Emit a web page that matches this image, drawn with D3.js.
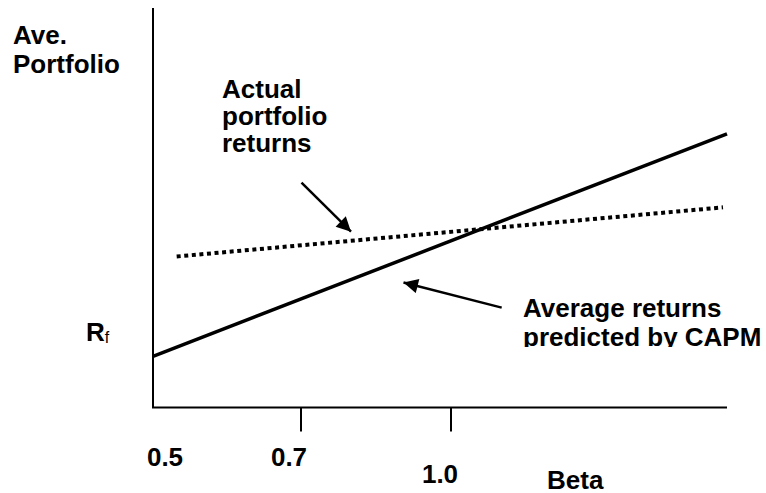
<!DOCTYPE html>
<html>
<head>
<meta charset="utf-8">
<script src="https://cdn.jsdelivr.net/npm/d3@7"></script>
<style>
  body { margin: 0; background: #fff; }
  text { font-family: "Liberation Sans", Arial, sans-serif; font-weight: bold; fill: #000; }
</style>
</head>
<body>
<svg id="chart"></svg>
<script>
// Data (schematic units: beta on x, average return on y)
const tickBetas = [0.5, 0.7, 1.0];
const tickLabels = ["0.5", "0.7", "1.0"];
const capmBeta = [0.5, 1.55];
const capmReturn = [0.128, 0.685];
const actualBeta = [0.532, 1.542];
const actualReturn = [0.378, 0.501];
const arrowActual = [[0.701, 0.563], [0.8, 0.44]];
const arrowCapm = [[1.101, 0.25], [0.905, 0.313]];

const width = 766, height = 493;
const svg = d3.select("#chart").attr("width", width).attr("height", height);

// x is drawn schematically, so the scale is piecewise
const x = d3.scaleLinear().domain([0.5, 0.7, 1.0, 1.55]).range([153, 301, 451, 727]);
const y = d3.scaleLinear().domain([0, 1]).range([407.5, 8]);

// arrowhead
svg.append("defs").append("marker")
    .attr("id", "head")
    .attr("viewBox", "0 0 10 10")
    .attr("refX", 10).attr("refY", 5)
    .attr("markerWidth", 6.4).attr("markerHeight", 5.8)
    .attr("markerUnits", "strokeWidth")
    .attr("orient", "auto")
  .append("path")
    .attr("d", "M0,0 L10,5 L0,10 Z")
    .attr("fill", "#000");

// axes
svg.append("line")
    .attr("x1", x(0.5)).attr("x2", x(0.5))
    .attr("y1", y(1)).attr("y2", y(0))
    .attr("stroke", "#000").attr("stroke-width", 2);

svg.append("line")
    .attr("x1", x(0.5) - 1).attr("x2", x(1.55))
    .attr("y1", y(0)).attr("y2", y(0))
    .attr("stroke", "#000").attr("stroke-width", 2);

svg.selectAll(".tick")
    .data(tickBetas.slice(1))
    .join("line")
    .attr("class", "tick")
    .attr("x1", d => x(d)).attr("x2", d => x(d))
    .attr("y1", y(0)).attr("y2", y(0) + 24)
    .attr("stroke", "#000").attr("stroke-width", 2);

// tick labels sit a little off their ticks in the original
const labelDx = [12, -12, -11];
const labelY = [466, 466, 483];
svg.selectAll(".tick-label")
    .data(tickBetas)
    .join("text")
    .attr("class", "tick-label")
    .attr("text-anchor", "middle")
    .attr("x", (d, i) => x(d) + labelDx[i])
    .attr("y", (d, i) => labelY[i])
    .style("font-size", "26px")
    .text((d, i) => tickLabels[i]);

svg.append("text")
    .attr("x", 547).attr("y", 489)
    .style("font-size", "26px")
    .text("Beta");

// y label
const yLabel = svg.append("text").style("font-size", "26px");
yLabel.append("tspan").attr("x", 13).attr("y", 44).text("Ave.");
yLabel.append("tspan").attr("x", 13).attr("y", 73).text("Portfolio");

const rf = svg.append("text").attr("x", 86).attr("y", 341).style("font-size", "26px");
rf.append("tspan").text("R");
rf.append("tspan").attr("dy", 2).style("font-size", "16px").style("font-weight", "normal").text("f");

// lines
const line = d3.line().x(d => x(d[0])).y(d => y(d[1]));

svg.append("path")
    .datum(d3.zip(capmBeta, capmReturn))
    .attr("d", line)
    .attr("fill", "none")
    .attr("stroke", "#000")
    .attr("stroke-width", 3.5);

svg.append("path")
    .datum(d3.zip(actualBeta, actualReturn))
    .attr("d", line)
    .attr("fill", "none")
    .attr("stroke", "#000")
    .attr("stroke-width", 4)
    .attr("stroke-dasharray", "4,3.6");

// annotations
[arrowActual, arrowCapm].forEach(a => {
    svg.append("path")
        .datum(a)
        .attr("d", line)
        .attr("stroke", "#000")
        .attr("stroke-width", 2.5)
        .attr("marker-end", "url(#head)");
});

const actualNote = svg.append("text").style("font-size", "26px");
["Actual", "portfolio", "returns"].forEach((t, i) => {
    actualNote.append("tspan").attr("x", 222).attr("y", 98 + i * 27).text(t);
});

svg.append("clipPath").attr("id", "noteClip")
  .append("rect").attr("x", 500).attr("y", 280).attr("width", 266).attr("height", 67);

const capmNote = svg.append("text").style("font-size", "26px").attr("clip-path", "url(#noteClip)");
["Average returns", "predicted by CAPM"].forEach((t, i) => {
    capmNote.append("tspan").attr("x", 523).attr("y", 317 + i * 29).text(t);
});
</script>
</body>
</html>
